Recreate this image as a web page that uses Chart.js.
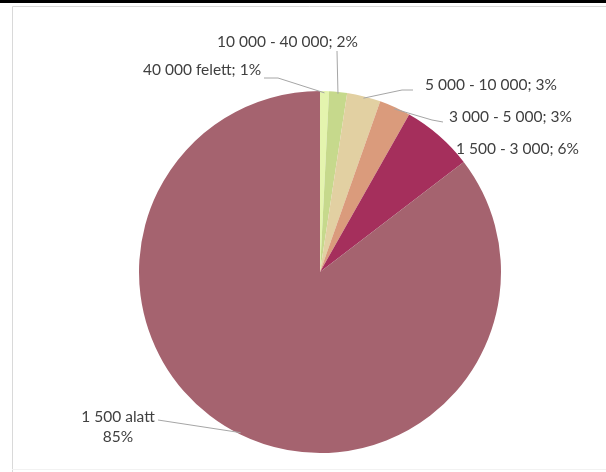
<!DOCTYPE html>
<html>
<head>
<meta charset="utf-8">
<script src="https://cdn.jsdelivr.net/npm/chart.js@4.4.0/dist/chart.umd.min.js"></script>
<style>
html,body{margin:0;padding:0;background:#fff;}
#wrap{position:relative;width:606px;height:472px;}
</style>
</head>
<body>
<div id="wrap"><canvas id="c" width="606" height="472"></canvas></div>
<script>
// Data (clockwise from 12 o'clock)
const categories = ["40 000 felett", "10 000 - 40 000", "5 000 - 10 000", "3 000 - 5 000", "1 500 - 3 000", "1 500 alatt"];
const shares = [0.8, 1.6, 3.0, 2.8, 6.4, 85.4];
const sliceColors = ["#e4f4ae", "#c6d98c", "#e2d0a2", "#da9b7c", "#a52f5c", "#a5636f"];

// Label layout (text position and leader elbow), matched by index
const labelLayout = [
  {x: 143, y: 70, align: 'left', lines: (c,p)=>[c + "; " + p + "%"], lead: [[264, 78], [278, 78]]},
  {x: 217, y: 42, align: 'left', lines: (c,p)=>[c + "; " + p + "%"], lead: [[337, 51]]},
  {x: 425, y: 85, align: 'left', lines: (c,p)=>[c + "; " + p + "%"], lead: [[413, 90], [402, 90]]},
  {x: 449, y: 117, align: 'left', lines: (c,p)=>[c + "; " + p + "%"], lead: [[443, 122], [432, 120]]},
  {x: 456, y: 149, align: 'left', lines: (c,p)=>[c + "; " + p + "%"], lead: null},
  {x: 118, y: 417, align: 'center', lines: (c,p)=>[c, p + "%"], lead: [[158, 420]]}
];

const FONT = '15.5px Lato, "Open Sans", sans-serif';

const framePlugin = {
  id: 'frame',
  beforeDraw(chart) {
    const ctx = chart.ctx;
    ctx.save();
    ctx.fillStyle = '#ffffff';
    ctx.fillRect(0, 0, chart.width, chart.height);
    ctx.fillStyle = '#000000';
    ctx.fillRect(0, 0, chart.width, 3);
    ctx.strokeStyle = '#d9d9d9';
    ctx.lineWidth = 1;
    ctx.beginPath();
    ctx.moveTo(12.5, 472);
    ctx.lineTo(12.5, 6.5);
    ctx.lineTo(606, 6.5);
    ctx.stroke();
    ctx.strokeStyle = '#f2f2f2';
    ctx.beginPath();
    ctx.moveTo(12, 469.5);
    ctx.lineTo(606, 469.5);
    ctx.stroke();
    ctx.restore();
  }
};

const labelPlugin = {
  id: 'pieLabels',
  afterDatasetsDraw(chart) {
    const ctx = chart.ctx;
    const meta = chart.getDatasetMeta(0);
    const total = shares.reduce((a, b) => a + b, 0);
    ctx.save();
    ctx.font = FONT;
    ctx.fillStyle = '#404040';
    ctx.textBaseline = 'middle';
    meta.data.forEach((arc, i) => {
      const L = labelLayout[i];
      const pct = Math.round(shares[i] / total * 100);
      const lines = L.lines(categories[i], pct);
      ctx.textAlign = L.align;
      lines.forEach((t, k) => ctx.fillText(t, L.x, L.y + k * 20));
      if (L.lead) {
        const mid = (arc.startAngle + arc.endAngle) / 2;
        const ex = arc.x + Math.cos(mid) * arc.outerRadius * 0.99;
        const ey = arc.y + Math.sin(mid) * arc.outerRadius * 0.99;
        ctx.strokeStyle = '#a6a6a6';
        ctx.lineWidth = 1;
        ctx.beginPath();
        ctx.moveTo(L.lead[0][0], L.lead[0][1]);
        for (let j = 1; j < L.lead.length; j++) ctx.lineTo(L.lead[j][0], L.lead[j][1]);
        ctx.lineTo(ex, ey);
        ctx.stroke();
      }
    });
    ctx.restore();
  }
};

new Chart(document.getElementById('c'), {
  type: 'pie',
  data: {
    labels: categories,
    datasets: [{
      data: shares,
      backgroundColor: sliceColors,
      borderWidth: 0
    }]
  },
  options: {
    responsive: false,
    animation: false,
    layout: {padding: {left: 139, right: 105, top: 91, bottom: 19}},
    plugins: {legend: {display: false}, tooltip: {enabled: false}, title: {display: false}}
  },
  plugins: [framePlugin, labelPlugin]
});
</script>
</body>
</html>
